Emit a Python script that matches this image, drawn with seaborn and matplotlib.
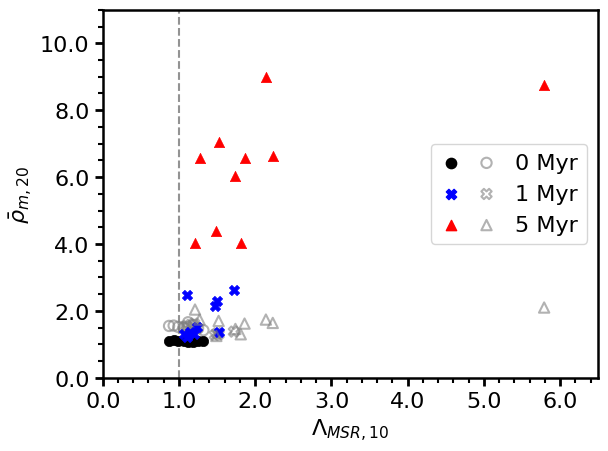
import matplotlib
matplotlib.use('Agg')
import matplotlib.pyplot as plt
import seaborn as sns
from matplotlib.legend_handler import HandlerTuple
from matplotlib.ticker import MultipleLocator, FormatStrFormatter

# 0 Myr
lam_0 = [0.87, 0.93, 0.99, 1.06, 1.12, 1.19, 1.25, 1.32]
rho_0 = [1.09, 1.12, 1.10, 1.11, 1.08, 1.07, 1.10, 1.11]
rho_0_alt = [1.55, 1.56, 1.52, 1.50, 1.66, 1.58, 1.48, 1.42]

# 1 Myr
lam_1 = [1.07, 1.10, 1.11, 1.15, 1.20, 1.24, 1.47, 1.50, 1.52, 1.72]
rho_1 = [1.31, 2.48, 1.21, 1.36, 1.31, 1.53, 2.14, 2.31, 1.38, 2.62]
rho_1_alt = [1.52, 1.55, 1.50, 1.58, 1.62, 1.48, 1.28, 1.33, 1.30, 1.38]

# 5 Myr
lam_5 = [1.21, 1.27, 1.49, 1.52, 1.74, 1.81, 1.86, 2.14, 2.23, 5.79]
rho_5 = [4.03, 6.58, 4.38, 7.04, 6.04, 4.03, 6.58, 8.99, 6.63, 8.75]
rho_5_alt = [2.04, 1.74, 1.25, 1.70, 1.46, 1.30, 1.62, 1.74, 1.64, 2.10]

labels = ['0 Myr', '1 Myr', '5 Myr']

fig, ax = plt.subplots(figsize=(6.08, 4.52), dpi=100)
fig.subplots_adjust(left=0.169, right=0.984, top=0.976, bottom=0.162)

ax.axvline(1.0, color='gray', linestyle='--', linewidth=1.5, alpha=0.85, zorder=0)

series = [(lam_0, rho_0, rho_0_alt, 'o', 'black'),
          (lam_1, rho_1, rho_1_alt, 'X', 'blue'),
          (lam_5, rho_5, rho_5_alt, '^', 'red')]

handles = []
for lam, rho, rho_alt, mk, col in series:
    sns.scatterplot(x=lam, y=rho_alt, marker=mk, s=55, facecolors='none',
                    edgecolor='gray', linewidth=1.5, alpha=0.6, ax=ax)
    sns.scatterplot(x=lam, y=rho, marker=mk, s=55, color=col,
                    edgecolor=col, linewidth=0.5, ax=ax)
    h_fill = ax.scatter([], [], marker=mk, s=55, color=col, edgecolor=col)
    h_open = ax.scatter([], [], marker=mk, s=55, facecolors='none',
                        edgecolor='gray', linewidth=1.5, alpha=0.6)
    handles.append((h_fill, h_open))

ax.set_xlim(0, 6.5)
ax.set_ylim(0, 11)
ax.xaxis.set_major_locator(MultipleLocator(1.0))
ax.xaxis.set_minor_locator(MultipleLocator(0.2))
ax.yaxis.set_major_locator(MultipleLocator(2.0))
ax.yaxis.set_minor_locator(MultipleLocator(0.5))
ax.xaxis.set_major_formatter(FormatStrFormatter('%.1f'))
ax.yaxis.set_major_formatter(FormatStrFormatter('%.1f'))
ax.tick_params(which='major', labelsize=16, width=2, length=6)
ax.tick_params(which='minor', width=1.5, length=3.5)
for sp in ax.spines.values():
    sp.set_linewidth(1.8)

ax.set_xlabel(r'$\Lambda_{MSR,10}$', fontsize=16)
ax.set_ylabel(r'$\bar{\rho}_{m,20}$', fontsize=16)

ax.legend(handles, labels, handler_map={tuple: HandlerTuple(ndivide=None, pad=0.6)},
          loc='center right', fontsize=16, handlelength=2.6)

fig.savefig('out.png', dpi=100)
